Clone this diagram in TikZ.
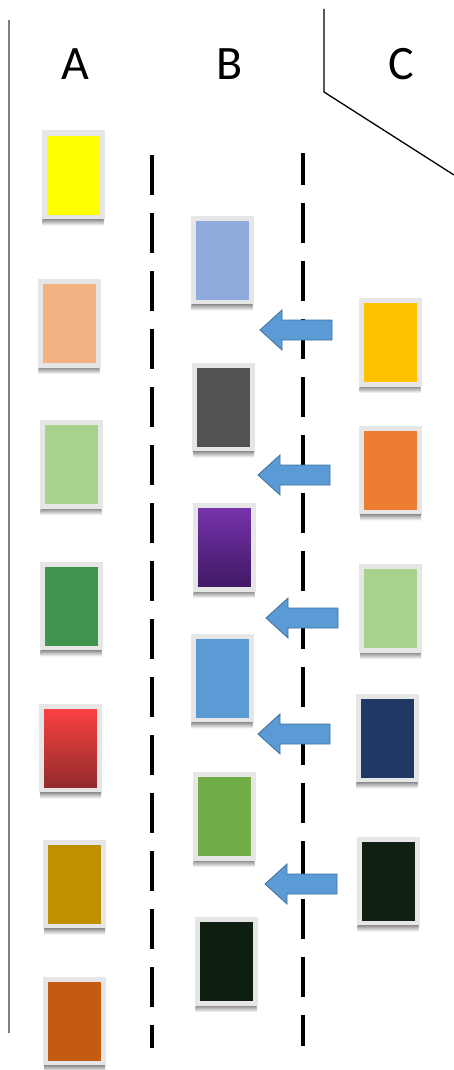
\documentclass[tikz,border=0pt]{standalone}
\usepackage{fontspec}
\setmainfont{Carlito}
\usetikzlibrary{calc}
\begin{document}
\begin{tikzpicture}[x=1pt,y=-1pt,
  cardbox/.style={draw=cardedge, line width=5pt, minimum width=58pt, minimum height=84pt, inner sep=0pt},
  cardshadow/.style={top color=black!42, bottom color=white, draw=none},
  colhead/.style={font=\fontsize{48}{48}\selectfont, inner sep=0pt},
  divider/.style={line width=4pt, dash pattern=on 40pt off 18pt},
  barrow/.style={fill=arrowblue, draw=arrowedge, line width=0.8pt, line join=miter},
  frameline/.style={line width=1.3pt, draw=black}
]
\definecolor{cardedge}{HTML}{E6E6E6}
\definecolor{arrowblue}{HTML}{5B9BD5}
\definecolor{arrowedge}{HTML}{41719C}
\definecolor{cA1}{HTML}{FFFF00}
\definecolor{cA2}{HTML}{F4B183}
\definecolor{cA3}{HTML}{A9D18E}
\definecolor{cA4}{HTML}{40954E}
\definecolor{cA5t}{HTML}{FF4242}
\definecolor{cA5b}{HTML}{8E2A2A}
\definecolor{cA6}{HTML}{BF9000}
\definecolor{cA7}{HTML}{C55A11}
\definecolor{cB1}{HTML}{8FAADC}
\definecolor{cB2}{HTML}{535353}
\definecolor{cB3t}{HTML}{7833AE}
\definecolor{cB3b}{HTML}{3E1862}
\definecolor{cB4}{HTML}{5B9BD5}
\definecolor{cB5}{HTML}{70AD47}
\definecolor{cB6}{HTML}{0E1E10}
\definecolor{cC1}{HTML}{FFC000}
\definecolor{cC2}{HTML}{ED7D31}
\definecolor{cC3}{HTML}{A9D18E}
\definecolor{cC4}{HTML}{203864}
\definecolor{cC5}{HTML}{0F1F12}
\definecolor{leftgray}{HTML}{808080}

\useasboundingbox (0,0) rectangle (454,1070);

% frame lines
\draw[line width=2pt, draw=leftgray] (8.5,20) -- (8.5,1033);
\coordinate (fr1) at (324,9);
\coordinate (fr2) at (324,92);
\coordinate (fr3) at (454,175);
\draw[frameline] (fr1) -- (fr2) -- (fr3);

% headers
\node[colhead] (hA) at (75,64) {A};
\node[colhead] (hB) at (229.5,64) {B};
\node[colhead] (hC) at (401,64) {C};

% dividers
\draw[divider] (151.5,155) -- (151.5,1048);
\draw[divider, dash phase=8pt] (303,153) -- (303,1046);

% column A
\node[cardbox, fill=cA1] (a1) at (73,175) {};
\node[cardbox, fill=cA2] (a2) at (69,323.5) {};
\node[cardbox, fill=cA3] (a3) at (71,464.5) {};
\node[cardbox, fill=cA4] (a4) at (71,606) {};
\node[cardbox, top color=cA5t, bottom color=cA5b] (a5) at (70.5,748) {};
\node[cardbox, fill=cA6] (a6) at (74.5,884) {};
\node[cardbox, fill=cA7] (a7) at (74.5,1021) {};

% column B
\node[cardbox, fill=cB1] (b1) at (222,260) {};
\node[cardbox, fill=cB2] (b2) at (223.5,407) {};
\node[cardbox, top color=cB3t, bottom color=cB3b] (b3) at (224,547.5) {};
\node[cardbox, fill=cB4] (b4) at (222,678) {};
\node[cardbox, fill=cB5] (b5) at (224,816.5) {};
\node[cardbox, fill=cB6] (b6) at (226,961.5) {};

% column C
\node[cardbox, fill=cC1] (c1) at (390,342.5) {};
\node[cardbox, fill=cC2] (c2) at (390.5,470) {};
\node[cardbox, fill=cC3] (c3) at (390.5,608.5) {};
\node[cardbox, fill=cC4] (c4) at (387,738) {};
\node[cardbox, fill=cC5] (c5) at (388,881) {};

% shadows under the cards
\foreach \n in {a1,a2,a3,a4,a5,a6,a7,b1,b2,b3,b4,b5,b6,c1,c2,c3,c4,c5}{
  \shade[cardshadow] ($(\n.south west)+(1,0)$) rectangle ($(\n.south east)+(-1,6)$);
}

% block arrows (tips)
\coordinate (t1) at (260,330);
\coordinate (t2) at (258,475);
\coordinate (t3) at (266,618);
\coordinate (t4) at (258,734);
\coordinate (t5) at (265,884);
\foreach \t in {t1,t2,t3,t4,t5}{
  \draw[barrow] (\t) -- ++(22,-20) -- ++(0,10) -- ++(50,0) -- ++(0,20) -- ++(-50,0) -- ++(0,10) -- cycle;
}
\end{tikzpicture}
\end{document}
